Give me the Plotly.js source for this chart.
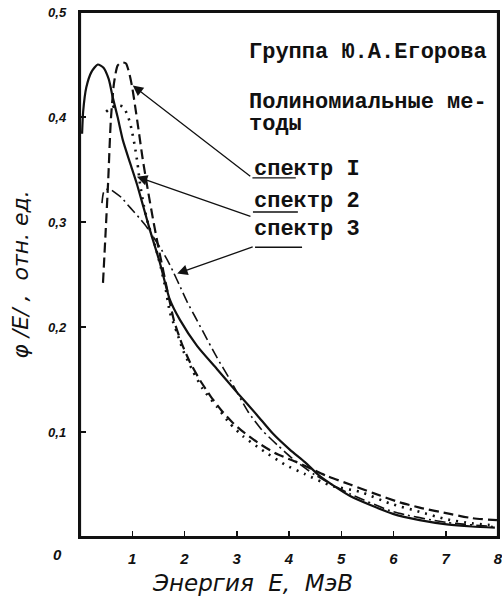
<!DOCTYPE html>
<html>
<head>
<meta charset="utf-8">
<script src="https://cdn.plot.ly/plotly-3.0.1.min.js"></script>
<style>
  html, body { margin: 0; padding: 0; background: #fff; }
  #chart { width: 502px; height: 608px; }
</style>
</head>
<body>
<div id="chart"></div>
<script>
// Energy spectra phi(E), relative units, vs neutron energy E (MeV)

// спектр 1 — dashed
const energy1 = [0.44, 0.49, 0.54, 0.59, 0.65, 0.72, 0.80, 0.88, 0.95, 1.00, 1.05, 1.12, 1.20, 1.30, 1.40, 1.50, 1.60, 1.70, 1.80, 1.95, 2.10, 2.30, 2.50, 2.70, 2.90, 3.10, 3.40, 3.73, 4.06, 4.34, 4.73, 5.17, 5.60, 6.12, 6.50, 7.08, 7.50, 7.98];
const phi1    = [0.242, 0.290, 0.340, 0.397, 0.432, 0.449, 0.452, 0.451, 0.440, 0.428, 0.412, 0.388, 0.360, 0.330, 0.302, 0.276, 0.252, 0.228, 0.206, 0.184, 0.167, 0.149, 0.134, 0.121, 0.110, 0.101, 0.090, 0.080, 0.073, 0.067, 0.058, 0.050, 0.042, 0.033, 0.028, 0.022, 0.018, 0.016];

// спектр 2 — solid
const energy2 = [0.04, 0.06, 0.12, 0.22, 0.34, 0.45, 0.55, 0.63, 0.72, 0.82, 0.96, 1.09, 1.21, 1.34, 1.53, 1.72, 1.91, 2.24, 2.62, 3.00, 3.39, 3.70, 4.02, 4.31, 4.59, 5.17, 5.99, 6.50, 7.02, 7.50, 7.94];
const phi2    = [0.384, 0.405, 0.428, 0.443, 0.450, 0.447, 0.436, 0.418, 0.400, 0.378, 0.356, 0.336, 0.315, 0.292, 0.261, 0.226, 0.207, 0.182, 0.160, 0.138, 0.116, 0.098, 0.083, 0.071, 0.058, 0.039, 0.022, 0.016, 0.012, 0.010, 0.009];

// спектр 3 — dash-dot
const energy3 = [0.42, 0.45, 0.50, 0.58, 0.67, 0.80, 0.92, 1.01, 1.15, 1.28, 1.40, 1.53, 1.67, 1.78, 1.92, 2.05, 2.20, 2.35, 2.62, 2.87, 2.97, 3.22, 3.48, 3.79, 4.06, 4.50, 5.17, 6.00, 7.00, 7.90];
const phi3    = [0.318, 0.328, 0.331, 0.331, 0.328, 0.323, 0.316, 0.311, 0.303, 0.295, 0.286, 0.276, 0.264, 0.253, 0.238, 0.224, 0.210, 0.196, 0.171, 0.150, 0.141, 0.119, 0.102, 0.087, 0.075, 0.059, 0.041, 0.024, 0.014, 0.010];

// dotted curve
const energyDot = [0.50, 0.60, 0.72, 0.82, 0.90, 0.96, 1.00, 1.05, 1.10, 1.15, 1.22, 1.30, 1.44, 1.55, 1.64, 1.72, 1.86, 1.97, 2.16, 2.35, 2.62, 2.87, 3.12, 3.48, 3.92, 4.30, 4.80, 5.36, 5.93, 6.50, 7.00, 7.50, 7.95];
const phiDot    = [0.405, 0.409, 0.411, 0.410, 0.403, 0.394, 0.385, 0.372, 0.356, 0.336, 0.316, 0.299, 0.277, 0.256, 0.236, 0.214, 0.194, 0.178, 0.158, 0.141, 0.124, 0.108, 0.096, 0.083, 0.069, 0.060, 0.049, 0.043, 0.032, 0.024, 0.017, 0.013, 0.011];

// Axis ticks
const xTicks = [1, 2, 3, 4, 5, 6, 7, 8];
const yTicks = [0.1, 0.2, 0.3, 0.4, 0.5];

// Typewritten notes on the field
const noteLines = ['Группа Ю.А.Егорова', 'Полиномиальные ме-', 'тоды'];
const spectrumLabels = ['спектр I', 'спектр 2', 'спектр 3'];

const INK = '#111';

function curve(x, y, dash, width) {
  return {
    x: x, y: y, type: 'scatter', mode: 'lines', hoverinfo: 'skip',
    line: { color: INK, width: width, dash: dash, shape: 'spline', smoothing: 0.6 },
    showlegend: false
  };
}

const traces = [
  curve(energyDot, phiDot, '2px,6px', 2.6),
  curve(energy3, phi3, '11px,4px,2px,4px', 1.6),
  curve(energy1, phi1, '10px,5px', 2.2),
  curve(energy2, phi2, 'solid', 2.2)
];

const monoFont = { family: 'Liberation Mono, DejaVu Sans Mono, monospace', size: 22, color: INK, weight: 'bold' };

const annotations = [];
// notes: heading + method caption
const noteY = [0.461, 0.4135, 0.3925];
noteLines.forEach((t, i) => annotations.push({
  xref: 'x', yref: 'y', x: 3.20, y: noteY[i], text: t, showarrow: false,
  xanchor: 'left', yanchor: 'middle', font: monoFont
}));
// spectrum labels
const labelY = [0.350, 0.3195, 0.2925];
spectrumLabels.forEach((t, i) => annotations.push({
  xref: 'x', yref: 'y', x: 3.29, y: labelY[i], text: t, showarrow: false,
  xanchor: 'left', yanchor: 'middle', font: monoFont
}));
// leader arrows from each label to its curve
const leaders = [
  { x: 1.01, y: 0.430, ax: 119, ay: 92 },
  { x: 1.09, y: 0.343, ax: 115, ay: 40 },
  { x: 1.86, y: 0.251, ax: 77, ay: -27 }
];
leaders.forEach(l => annotations.push({
  xref: 'x', yref: 'y', x: l.x, y: l.y, ax: l.ax, ay: l.ay, text: '',
  showarrow: true, arrowhead: 2, arrowsize: 1.6, arrowwidth: 1.3, arrowcolor: INK, standoff: 0
}));
// origin label and energy axis caption
annotations.push({
  xref: 'paper', yref: 'paper', x: -0.053, y: -0.034, text: '0', showarrow: false,
  xanchor: 'center', yanchor: 'middle',
  font: { family: 'Liberation Sans, Arial, sans-serif', size: 15, color: INK, weight: 'bold', style: 'italic' }
});
annotations.push({
  xref: 'x', yref: 'paper', x: 3.31, y: -0.087, text: 'Энергия  E,  МэВ', showarrow: false,
  xanchor: 'center', yanchor: 'middle',
  font: { family: 'DejaVu Sans, sans-serif', size: 23, color: INK, style: 'italic' }
});

// underlines below "спектр", plus the plot frame
const underlines = [
  { x0: 3.30, x1: 4.13, y: 0.342 },
  { x0: 3.31, x1: 4.17, y: 0.3095 },
  { x0: 3.35, x1: 4.25, y: 0.276 }
];
const shapes = underlines.map(u => ({
  type: 'line', xref: 'x', yref: 'y', x0: u.x0, x1: u.x1, y0: u.y, y1: u.y,
  line: { color: INK, width: 1.4 }
}));
shapes.push({
  type: 'rect', xref: 'paper', yref: 'paper', x0: 0, x1: 1, y0: 0, y1: 1,
  line: { color: INK, width: 2.2 }, fillcolor: 'rgba(0,0,0,0)'
});

const tickFont = { family: 'Liberation Sans, Arial, sans-serif', color: INK, weight: 'bold', style: 'italic' };

const layout = {
  width: 502, height: 608,
  margin: { l: 80, r: 4, t: 12, b: 71 },
  paper_bgcolor: '#fff', plot_bgcolor: '#fff',
  separators: ', ',
  showlegend: false,
  xaxis: {
    range: [0, 8], tickvals: xTicks, ticks: 'inside', ticklen: 6, tickwidth: 1.5, tickcolor: INK,
    showline: true, linewidth: 2.2, linecolor: INK, mirror: true, showgrid: false, zeroline: false,
    tickfont: Object.assign({ size: 15 }, tickFont), ticklabelstandoff: 7, ticklabeloverflow: 'allow'
  },
  yaxis: {
    range: [0, 0.5], tickvals: yTicks, tickformat: '.1f', ticks: 'inside', ticklen: 6, tickwidth: 1.5, tickcolor: INK,
    showline: true, linewidth: 2.2, linecolor: INK, mirror: true, showgrid: false, zeroline: false,
    tickfont: Object.assign({ size: 13 }, tickFont), ticklabelstandoff: 9, ticklabeloverflow: 'allow',
    title: { text: 'φ /E/ ,  отн. ед.', standoff: 14,
             font: { family: 'DejaVu Sans, sans-serif', size: 22, color: INK, style: 'italic' } }
  },
  annotations: annotations,
  shapes: shapes
};

Plotly.newPlot('chart', traces, layout, { staticPlot: true, displayModeBar: false });
</script>
</body>
</html>
